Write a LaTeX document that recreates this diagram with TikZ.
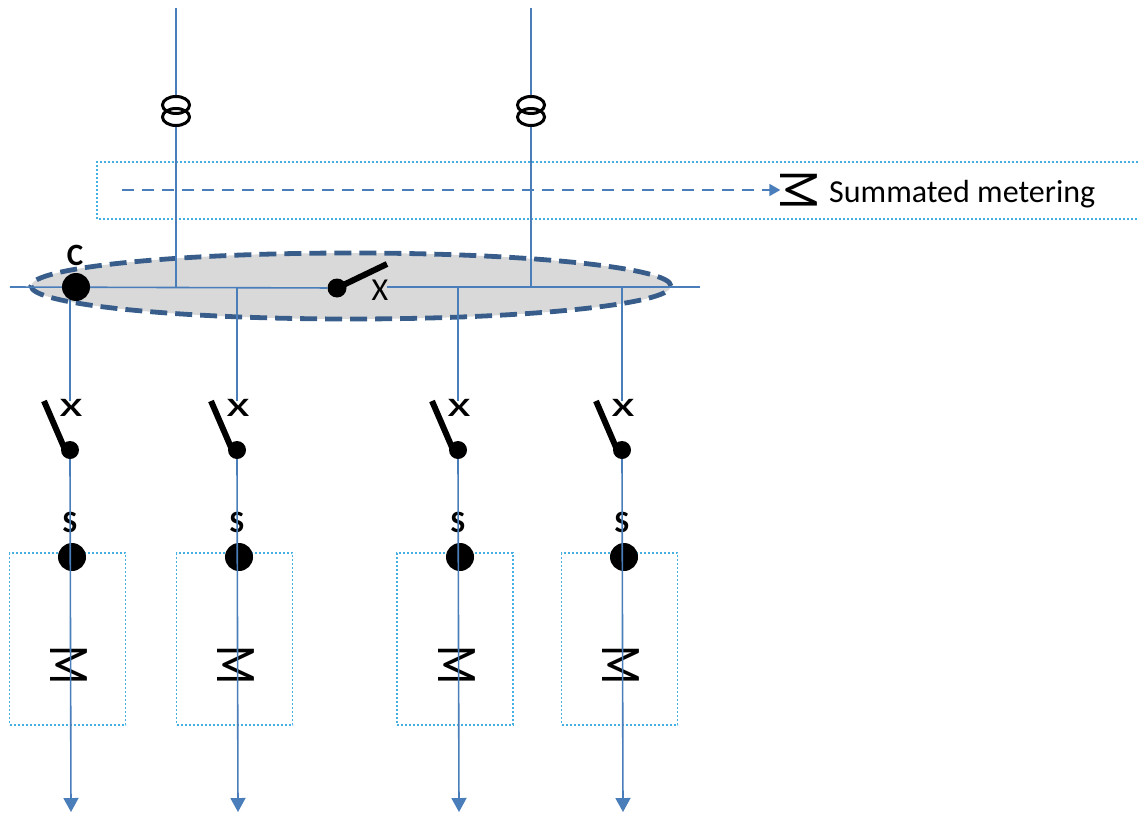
\documentclass[tikz,border=0pt]{standalone}
\usepackage{fontspec}
\setmainfont{Carlito}
\usetikzlibrary{arrows.meta}
\definecolor{wireblue}{RGB}{74,126,187}
\definecolor{busedge}{RGB}{56,93,138}
\definecolor{busfill}{RGB}{217,217,217}
\definecolor{boxcyan}{RGB}{70,175,225}
\begin{document}
\begin{tikzpicture}[x=1pt,y=-1pt]
        % Styles
        \tikzstyle{wire}=[draw=wireblue,line width=1.6pt]
        \tikzstyle{feed arrow}=[wire,-{Triangle[width=15pt,length=14pt]}]
        \tikzstyle{dot}=[circle,fill=black,inner sep=0pt]
        \tikzstyle{blade}=[line width=6pt]
        \tikzstyle{ring}=[line width=3pt]
        \tikzstyle{xfmr}=[inner sep=0pt,minimum width=30pt,minimum height=32pt]
        \tikzstyle{dotted frame}=[draw=boxcyan,line width=1.3pt,dash pattern=on 2pt off 2pt]
        \tikzstyle{meter box}=[dotted frame,minimum width=116pt,minimum height=172pt,inner sep=0pt]
        \tikzstyle{meter}=[rotate=-90,inner sep=0pt,font=\fontsize{46}{46}\selectfont]
        \tikzstyle{tag}=[inner sep=0pt,font=\bfseries\fontsize{31}{31}\selectfont]
        \newcommand{\meterglyph}{\scalebox{1}[1.25]{M}}
        \useasboundingbox (0,0) rectangle (1139,813);
        %The graphic
        %busbar zone
        \draw[fill=busfill,draw=busedge,line width=4.8pt,dash pattern=on 17pt off 8pt] (351,286) ellipse (320pt and 33pt);
        %summated metering
        \draw[dotted frame] (1150,162) -| (97,219) -- (1150,219);
        \coordinate (sumin) at (122,190);
        \node[meter] (msum) at (799,190) {\meterglyph};
        \draw[wire,dash pattern=on 12pt off 8pt,-{Triangle[width=12pt,length=11pt]}] (sumin) -- (msum.south);
        \node[anchor=base west,inner sep=0pt,font=\fontsize{32}{38}\selectfont] (sumtxt) at (829,202) {Summated metering};
        %incomers
        \foreach \k/\x in {1/176,2/531}{
            \coordinate (feedin\k) at (\x,8);
            \coordinate (busin\k) at (\x,287);
            \node[xfmr] (xf\k) at (\x,111) {};
            \draw[wire] (feedin\k) -- (xf\k.north);
            \draw[wire] (xf\k.south) -- (busin\k);
            \draw[ring] ([yshift=6pt]xf\k.center) ellipse (13.5pt and 8.5pt);
            \draw[ring] ([yshift=-6pt]xf\k.center) ellipse (13.5pt and 8.5pt);
        }
        %bus and coupler
        \coordinate (busL) at (10,287);
        \coordinate (busM) at (387,287);
        \coordinate (busR) at (700,287);
        \coordinate (cpltip) at (387,264);
        \node[dot,minimum size=19pt] (cpl) at (337,288) {};
        \draw[wire] (busL) -- (cpl);
        \draw[wire] (busM) -- (busR);
        \draw[blade] (cpl.center) -- (cpltip);
        \node[inner sep=0pt,font=\fontsize{32}{32}\selectfont] (xlab) at (380,290) {X};
        %feeders
        \foreach \i/\x/\bx in {1/70/67.5,2/237/234.5,3/458/455,4/622/619.5}{
            \coordinate (tap\i) at (\x,287);
            \coordinate (open\i) at (\x,401);
            \coordinate (hinge\i) at (\x-26,401);
            \coordinate (out\i) at (\x+1,812);
            \node[meter box] (mb\i) at (\bx,639) {};
            \node[meter] (m\i) at (\x-1,665) {\meterglyph};
            \node[dot,minimum size=18pt] (sw\i) at (\x,450) {};
            \node[inner sep=0pt,font=\fontsize{36}{36}\selectfont] (xm\i) at (\x+1,408) {\scalebox{1.5}[1]{x}};
            \node[tag] (slab\i) at (\x,522) {S};
            \node[dot,minimum size=28pt] (s\i) at (\x+2,557) {};
            \draw[wire] (tap\i) -- (open\i);
            \draw[blade] (hinge\i) -- ([xshift=-4pt,yshift=-2pt]sw\i.center);
            \draw[feed arrow] (sw\i.south) -- (out\i);
        }
        %point C
        \node[dot,minimum size=28pt] (C) at (76,287) {};
        \node[tag] (Clab) at (75,255) {C};
    \end{tikzpicture}
\end{document}
